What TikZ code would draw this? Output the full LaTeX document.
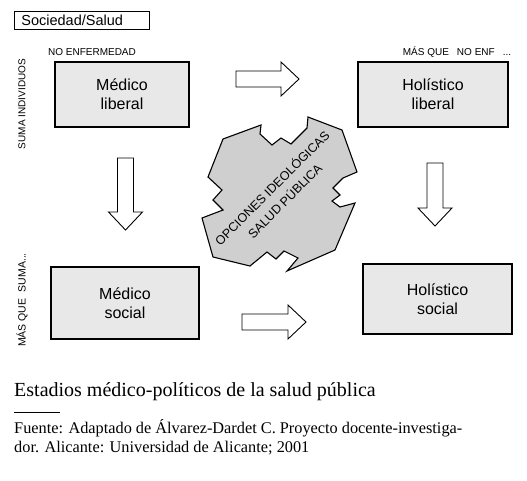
\documentclass[tikz,border=0pt]{standalone}
\usepackage{fontspec}
\setmainfont{Liberation Sans}
\newfontfamily\seriffont{Liberation Serif}
\usetikzlibrary{positioning}
\tikzset{
	caja/.style     = {draw, line width=1.2pt, fill=gray!18, align=center,
		font=\fontsize{16}{19}\selectfont},
	etiq/.style     = {inner sep=0pt, font=\fontsize{10}{11}\selectfont},
	flecha/.style   = {draw, line width=0.9pt, fill=white},
	opciones/.style = {draw, line width=1.1pt, fill=gray!38, line join=miter}
}
% block arrow: position, angle, length
\newcommand{\flechabloque}[3]{%
	\begin{scope}[shift={#1}, rotate=#2]
		\draw[flecha] (0,-8) -- (#3-18,-8) -- (#3-18,-17) -- (#3,0)
			-- (#3-18,17) -- (#3-18,8) -- (0,8) -- cycle;
	\end{scope}}

\begin{document}
\begin{tikzpicture}[x=1pt, y=-1pt]
	\useasboundingbox (0,0) rectangle (527,480);

	% title box
	\node[draw, line width=0.8pt, anchor=north west, text width=121pt,
		inner xsep=7pt, inner ysep=0pt, minimum height=18pt,
		font=\fontsize{14.5}{16}\selectfont] (tema) at (14,11) {Sociedad/Salud};

	% axis labels
	\node[etiq] (noenf) at (92,52) {NO ENFERMEDAD};
	\node[etiq] (masque) at (457,52) {MÁS QUE\hspace{0.8em}NO ENF\hspace{0.8em}...};
	\node[etiq, rotate=90] (suma) at (22,104) {SUMA INDIVIDUOS};
	\node[etiq, rotate=90, font=\fontsize{10.5}{11}\selectfont] (massuma) at (22,300) {MÁS QUE\hspace{0.6em}SUMA...};

	% the four stages
	\node[caja, minimum width=134pt, minimum height=65pt] (medlib) at (122,94.5) {Médico\\liberal};
	\node[caja, minimum width=150pt, minimum height=65pt] (hollib) at (433,94.5) {Holístico\\liberal};
	\node[caja, minimum width=148pt, minimum height=72pt] (medsoc) at (125,303) {Médico\\social};
	\node[caja, minimum width=149pt, minimum height=70pt] (holsoc) at (437.5,299) {Holístico\\social};

	% arrows between stages
	\flechabloque{(236,79)}{0}{63}
	\flechabloque{(242,322)}{0}{64}
	\flechabloque{(125.5,158)}{-90}{72}
	\flechabloque{(435,163)}{-90}{63}

	% ideological options
	\draw[opciones] (223,139) -- (261,125) -- (260,134) -- (272,145) -- (281,138)
		-- (291,144) -- (307,128) -- (308,117) -- (342,130) -- (357,172)
		-- (343,178) -- (333,188) -- (340,195) -- (332,201) -- (340,207)
		-- (355,203) -- (335,250) -- (287,271) -- (298,258) -- (284,251)
		-- (276,259) -- (267,252) -- (250,266) -- (213,257) -- (202,218)
		-- (223,210) -- (213,200) -- (222,190) -- (208,177) -- cycle;
	\node[rotate=45, align=center, inner sep=0pt,
		font=\fontsize{12.5}{18}\selectfont] (opc) at (278,194)
		{OPCIONES IDEOLÓGICAS\\SALUD PÚBLICA};

	% caption
	\node[anchor=base west, inner sep=0pt, font=\seriffont\fontsize{20}{23}\selectfont]
		(titulo) at (14,396) {Estadios médico-políticos de la salud pública};
	\coordinate (r1) at (14,412);
	\coordinate (r2) at (60,412);
	\draw[line width=0.8pt] (r1) -- (r2);
	\node[anchor=base west, inner sep=0pt, font=\seriffont\fontsize{16.3}{19}\selectfont]
		(fuente1) at (14,433) {Fuente: Adaptado de Álvarez-Dardet C. Proyecto docente-investiga-};
	\node[anchor=base west, inner sep=0pt, font=\seriffont\fontsize{16.3}{19}\selectfont]
		(fuente2) at (14,452) {dor. Alicante: Universidad de Alicante; 2001};

\end{tikzpicture}
\end{document}
